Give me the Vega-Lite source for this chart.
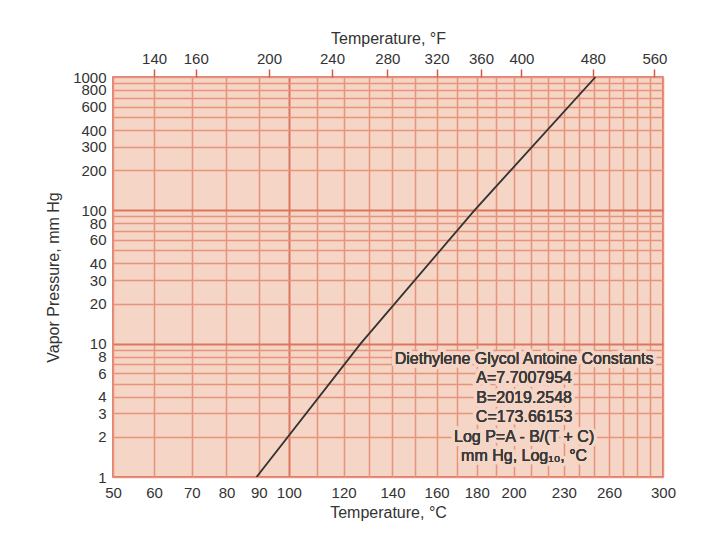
{
  "$schema": "https://vega.github.io/schema/vega-lite/v6.json",
  "width": 550,
  "height": 400,
  "autosize": {"type": "none"},
  "padding": {"left": 113, "top": 77, "right": 65, "bottom": 70},
  "background": "white",
  "config": {
    "font": "Liberation Sans",
    "view": {"fill": "#f5d5c5", "stroke": "#d6584a", "strokeWidth": 1.5},
    "axis": {
      "labelFont": "Liberation Sans",
      "titleFont": "Liberation Sans",
      "labelFontSize": 15,
      "titleFontSize": 16,
      "labelColor": "#333333",
      "titleColor": "#333333",
      "titleFontWeight": "normal"
    },
    "axisY": {
      "values": [1,2,3,4,5,6,7,8,9,10,20,30,40,50,60,70,80,90,100,200,300,400,500,600,700,800,900,1000],
      "labelExpr": "indexof([5,7,9,50,70,90,500,700,900], datum.value) >= 0 ? '' : format(datum.value, 'd')",
      "ticks": false,
      "domain": false,
      "grid": true,
      "gridColor": {"condition": {"test": "datum.value == 10 || datum.value == 100", "value": "#dc7660"}, "value": "#e8937b"},
      "gridWidth": {"condition": {"test": "datum.value == 10 || datum.value == 100", "value": 2}, "value": 1.5},
      "labelPadding": 7,
      "labelOverlap": false,
      "labelFlush": false,
      "labelBound": false,
      "titlePadding": 11
    }
  },
  "data": {
    "values": [
      {"T": 89.3, "P": 1},
      {"T": 126.7, "P": 10},
      {"T": 178.8, "P": 100},
      {"T": 250.7, "P": 1000}
    ]
  },
  "layer": [
    {
      "mark": {"type": "line", "color": "#333333", "strokeWidth": 1.8, "clip": true},
      "encoding": {
        "x": {
          "field": "T",
          "type": "quantitative",
          "scale": {"type": "symlog", "constant": 55, "domain": [50, 300], "nice": false, "zero": false},
          "axis": {
            "orient": "bottom",
            "values": [50,60,70,80,90,100,110,120,130,140,150,160,170,180,190,200,210,220,230,240,250,260,270,280,290,300],
            "labelExpr": "indexof([50,60,70,80,90,100,120,140,160,180,200,230,260,300], datum.value) >= 0 ? format(datum.value, 'd') : ''",
            "ticks": false,
            "domain": false,
            "grid": true,
            "gridColor": {"condition": {"test": "datum.value == 100", "value": "#dc7660"}, "value": "#e8937b"},
            "gridWidth": {"condition": {"test": "datum.value == 100", "value": 2}, "value": 1.5},
            "labelPadding": 8,
            "labelOverlap": false,
            "labelFlush": false,
            "labelBound": false,
            "title": "Temperature, °C",
            "titlePadding": 4
          }
        },
        "y": {
          "field": "P",
          "type": "quantitative",
          "scale": {"type": "log", "domain": [1, 1000], "nice": false},
          "axis": {"orient": "left", "title": "Vapor Pressure, mm Hg", "labelOverlap": false}
        }
      }
    },
    {
      "mark": {
        "type": "text",
        "text": ["Diethylene Glycol Antoine Constants", "A=7.7007954", "B=2019.2548", "C=173.66153", "Log P=A - B/(T + C)", "mm Hg, Log₁₀, °C"],
        "font": "Liberation Sans",
        "fontSize": 16,
        "lineHeight": 19.5,
        "align": "center",
        "baseline": "middle",
        "fill": "#f5d5c5",
        "stroke": "#f5d5c5",
        "strokeWidth": 7,
        "strokeJoin": "round"
      },
      "encoding": {
        "x": {
          "datum": 206,
          "type": "quantitative",
          "axis": {
            "orient": "top",
            "values": [60, 71.1111, 93.3333, 115.5556, 137.7778, 160, 182.2222, 204.4444, 248.8889, 293.3333],
            "labelExpr": "format(datum.value * 9 / 5 + 32, '.0f')",
            "ticks": true,
            "tickColor": "#d6584a",
            "tickSize": 8,
            "tickWidth": 1.5,
            "domain": false,
            "grid": false,
            "labelPadding": 3,
            "labelOverlap": false,
            "labelFlush": false,
            "labelBound": false,
            "title": "Temperature, °F",
            "titlePadding": 5
          }
        },
        "y": {"datum": 7.7, "type": "quantitative", "axis": {"orient": "left", "title": "Vapor Pressure, mm Hg", "labelOverlap": false}}
      }
    },
    {
      "mark": {
        "type": "text",
        "text": ["Diethylene Glycol Antoine Constants", "A=7.7007954", "B=2019.2548", "C=173.66153", "Log P=A - B/(T + C)", "mm Hg, Log₁₀, °C"],
        "font": "Liberation Sans",
        "fontSize": 16,
        "lineHeight": 19.5,
        "align": "center",
        "baseline": "middle",
        "fill": "#3a3a3a"
      },
      "encoding": {
        "x": {"datum": 206, "type": "quantitative", "axis": null},
        "y": {"datum": 7.7, "type": "quantitative", "axis": {"orient": "left", "title": "Vapor Pressure, mm Hg", "labelOverlap": false}}
      }
    }
  ]
}
